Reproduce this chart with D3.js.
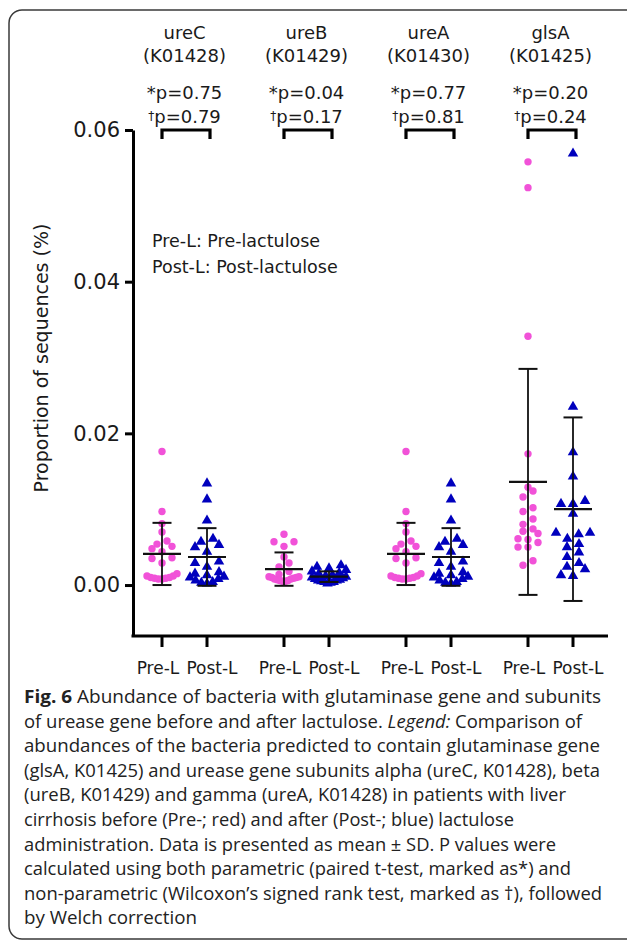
<!DOCTYPE html>
<html><head><meta charset="utf-8">
<script src="https://cdn.jsdelivr.net/npm/d3@7"></script>
<style>html,body{margin:0;padding:0;background:#fff;} svg{display:block}</style>
</head><body>
<script>
// ---------- data ----------
const genes = ["ureC", "ureB", "ureA", "glsA"];
const keggIds = ["(K01428)", "(K01429)", "(K01430)", "(K01425)"];
const conditions = ["Pre-L", "Post-L"];
const pParametric = ["0.75", "0.04", "0.77", "0.20"];
const pNonParametric = ["0.79", "0.17", "0.81", "0.24"];
const yTicks = [0, 0.02, 0.04, 0.06];

const ureCPre = [0.0176, 0.0097, 0.0081, 0.0070, 0.0058, 0.0054, 0.0051, 0.0048, 0.0044, 0.0036, 0.0035, 0.0029, 0.0015, 0.0012, 0.0010, 0.0009, 0.0008, 0.0008, 0.0009, 0.0010, 0.0012];
const ureCPost = [0.0134, 0.0113, 0.0085, 0.0061, 0.0057, 0.0053, 0.0050, 0.0044, 0.0031, 0.0029, 0.0024, 0.0017, 0.0015, 0.0013, 0.0011, 0.0010, 0.0008, 0.0006, 0.0004, 0.0003, 0.0002];
const ureBPre = [0.0067, 0.0057, 0.0057, 0.0051, 0.0037, 0.0029, 0.0024, 0.0018, 0.0014, 0.0011, 0.0010, 0.0009, 0.0008, 0.0007, 0.0006, 0.0005, 0.0005, 0.0006, 0.0008, 0.0010, 0.0011];
const ureBPost = [0.0026, 0.0024, 0.0022, 0.0020, 0.0018, 0.0016, 0.0015, 0.0013, 0.0012, 0.0011, 0.0010, 0.0009, 0.0008, 0.0007, 0.0006, 0.0006, 0.0005, 0.0004, 0.0004, 0.0003, 0.0002];
const ureAPre = [0.0176, 0.0097, 0.0081, 0.0070, 0.0058, 0.0054, 0.0051, 0.0048, 0.0044, 0.0036, 0.0035, 0.0029, 0.0015, 0.0012, 0.0010, 0.0009, 0.0008, 0.0008, 0.0009, 0.0010, 0.0012];
const ureAPost = [0.0134, 0.0113, 0.0085, 0.0061, 0.0057, 0.0053, 0.0050, 0.0044, 0.0031, 0.0029, 0.0024, 0.0017, 0.0015, 0.0013, 0.0011, 0.0010, 0.0008, 0.0006, 0.0004, 0.0003, 0.0002];
const glsAPre = [0.0558, 0.0524, 0.0328, 0.0173, 0.0129, 0.0124, 0.0116, 0.0102, 0.0097, 0.0087, 0.0080, 0.0074, 0.0071, 0.0068, 0.0061, 0.0060, 0.0056, 0.0050, 0.0050, 0.0032, 0.0026];
const glsAPost = [0.0569, 0.0235, 0.0175, 0.0143, 0.0111, 0.0107, 0.0107, 0.0094, 0.0069, 0.0069, 0.0067, 0.0061, 0.0054, 0.0050, 0.0043, 0.0037, 0.0029, 0.0024, 0.0021, 0.0013, 0.0012];

// mean and SD (as drawn in the figure) per gene
const meanPre = [0.0041, 0.0021, 0.0041, 0.0136];
const meanPost = [0.0037, 0.0011, 0.0037, 0.0100];
const sdPre = [0.0041, 0.0022, 0.0041, 0.0149];
const sdPost = [0.0038, 0.0007, 0.0038, 0.0121];

const legendLines = ["Pre-L: Pre-lactulose", "Post-L: Post-lactulose"];
const yLabel = "Proportion of sequences (%)";

// ---------- build ----------
const series = [
  [ureCPre, ureCPost], [ureBPre, ureBPost], [ureAPre, ureAPost], [glsAPre, glsAPost]
];
const W = 627, H = 942;
const colPre = "#f152d8", colPost = "#0000bd";
const font = "DejaVu Sans, Verdana, sans-serif";

const svg = d3.select("body").append("svg").attr("width", W).attr("height", H);

// frame
svg.append("rect").attr("x", 9).attr("y", 10).attr("width", 700).attr("height", 929)
  .attr("rx", 13).attr("fill", "none").attr("stroke", "#3a3a3a").attr("stroke-width", 1.5);

const xGroup = d3.scaleBand().domain(genes).range([123.5, 611.5]);
const xCond = d3.scalePoint().domain(conditions).range([-22.5, 22.5]);
const xPos = (g, c) => xGroup(g) + xGroup.bandwidth() / 2 + xCond(c);
const y = d3.scaleLinear().domain([-0.00672, 0.06]).range([636, 130]);
const axisX0 = 133, axisX1 = 608;

// y axis
const yAxis = svg.append("g").attr("transform", `translate(${axisX0},0)`)
  .call(d3.axisLeft(y).tickValues(yTicks).tickFormat(d3.format(".2f")).tickSize(8).tickSizeOuter(0).tickPadding(5));
yAxis.select(".domain").attr("stroke", "#000").attr("stroke-width", 3);
yAxis.selectAll(".tick line").attr("stroke", "#000").attr("stroke-width", 3);
yAxis.selectAll(".tick text").attr("font-family", font).attr("font-size", 21).attr("fill", "#1a1a1a");

// x axis
const xa = svg.append("g");
xa.append("line").attr("x1", axisX0 - 1.5).attr("x2", axisX1).attr("y1", y.range()[0]).attr("y2", y.range()[0])
  .attr("stroke", "#000").attr("stroke-width", 3);
const cats = genes.flatMap(g => conditions.map(c => ({ g, c })));
xa.selectAll("line.tk").data(cats).join("line").attr("class", "tk")
  .attr("x1", d => xPos(d.g, d.c)).attr("x2", d => xPos(d.g, d.c))
  .attr("y1", 636).attr("y2", 647).attr("stroke", "#000").attr("stroke-width", 3);
xa.selectAll("text").data(cats).join("text")
  .attr("x", d => xPos(d.g, d.c) + (d.c === "Pre-L" ? -4 : 5)).attr("y", 674).attr("text-anchor", "middle")
  .attr("font-family", font).attr("font-size", 17).attr("fill", "#1a1a1a").text(d => d.c);

// y label
svg.append("text").attr("transform", "translate(48,358) rotate(-90)").attr("text-anchor", "middle")
  .attr("font-family", font).attr("font-size", 19).attr("fill", "#1a1a1a").text(yLabel);

// legend text
svg.selectAll("text.leg").data(legendLines).join("text").attr("class", "leg")
  .attr("x", 152).attr("y", (d, i) => 247 + i * 26).attr("font-family", font).attr("font-size", 17.5)
  .attr("fill", "#1a1a1a").text(d => d);

// headers
genes.forEach((g, i) => {
  const cx = xGroup(g) + xGroup.bandwidth() / 2;
  const t = svg.append("g").attr("font-family", font).attr("fill", "#1a1a1a").attr("text-anchor", "middle");
  t.append("text").attr("x", cx).attr("y", 39).attr("font-size", 18).text(g);
  t.append("text").attr("x", cx).attr("y", 62).attr("font-size", 18).text(keggIds[i]);
  t.append("text").attr("x", cx).attr("y", 99).attr("font-size", 18).text("*p=" + pParametric[i]);
  const t2 = t.append("text").attr("x", cx).attr("y", 123).attr("font-size", 18);
  t2.append("tspan").attr("font-size", 12).attr("dy", -3).text("†");
  t2.append("tspan").attr("dy", 3).text("p=" + pNonParametric[i]);
  // bracket
  const x1 = xPos(g, "Pre-L"), x2 = xPos(g, "Post-L") + 3;
  svg.append("path").attr("d", `M${x1},${139}V${130}H${x2}V${139}`)
    .attr("fill", "none").attr("stroke", "#000").attr("stroke-width", 3.2);
});

// binned scatter offsets (column scatter layout)
function columnScatter(values, binH, maxSpacing, maxWidth) {
  const order = values.map((v, i) => i).sort((a, b) => values[a] - values[b]);
  const off = new Array(values.length);
  const bins = [];
  let cur = null;
  order.forEach(i => {
    const py = y(values[i]);
    if (!cur || cur.y0 - py > binH) { cur = { y0: py, idx: [] }; bins.push(cur); }
    cur.idx.push(i);
  });
  bins.forEach(b => {
    const n = b.idx.length;
    const s = n > 1 ? Math.min(maxSpacing, maxWidth / (n - 1)) : 0;
    const slots = [];
    for (let j = 0; j < n; j++) slots.push((j - (n - 1) / 2) * s);
    slots.sort((a, b2) => Math.abs(a) - Math.abs(b2) || a - b2);
    b.idx.forEach((i, j) => { off[i] = slots[j]; });
  });
  return off;
}

const tri = d3.symbol().type(d3.symbolTriangle).size(48);
genes.forEach((g, gi) => {
  conditions.forEach((c, ci) => {
    const vals = series[gi][ci];
    const cx = xPos(g, c);
    const off = ci === 0 ? columnScatter(vals, 6.5, 10, 30) : columnScatter(vals, 7.5, 12, 34);
    const pts = vals.map((v, i) => ({ v, dx: off[i] }));
    if (ci === 0) {
      svg.append("g").selectAll("circle").data(pts).join("circle")
        .attr("cx", d => cx + d.dx).attr("cy", d => y(d.v)).attr("r", 3.7).attr("fill", colPre);
    } else {
      svg.append("g").selectAll("path").data(pts).join("path")
        .attr("transform", d => `translate(${cx + d.dx},${y(d.v)})`).attr("d", tri).attr("fill", colPost);
    }
  });
});

// error bars (mean ± SD)
genes.forEach((g, gi) => {
  conditions.forEach((c, ci) => {
    const m = ci === 0 ? meanPre[gi] : meanPost[gi];
    const s = ci === 0 ? sdPre[gi] : sdPost[gi];
    const cx = xPos(g, c);
    const eb = svg.append("g").attr("stroke", "#111");
    eb.append("line").attr("x1", cx).attr("x2", cx).attr("y1", y(m - s)).attr("y2", y(m + s)).attr("stroke-width", 1.8);
    eb.append("line").attr("x1", cx - 9.5).attr("x2", cx + 9.5).attr("y1", y(m + s)).attr("y2", y(m + s)).attr("stroke-width", 2);
    eb.append("line").attr("x1", cx - 9.5).attr("x2", cx + 9.5).attr("y1", y(m - s)).attr("y2", y(m - s)).attr("stroke-width", 2);
    eb.append("line").attr("x1", cx - 19).attr("x2", cx + 19).attr("y1", y(m)).attr("y2", y(m)).attr("stroke-width", 2.2);
  });
});

// caption
const capFont = "'Open Sans', Lato, sans-serif";
const captionLines = [
  [["b", "Fig. 6"], ["n", " Abundance of bacteria with glutaminase gene and subunits"]],
  [["n", "of urease gene before and after lactulose. "], ["i", "Legend:"], ["n", " Comparison of"]],
  [["n", "abundances of the bacteria predicted to contain glutaminase gene"]],
  [["n", "(glsA, K01425) and urease gene subunits alpha (ureC, K01428), beta"]],
  [["n", "(ureB, K01429) and gamma (ureA, K01428) in patients with liver"]],
  [["n", "cirrhosis before (Pre-; red) and after (Post-; blue) lactulose"]],
  [["n", "administration. Data is presented as mean ± SD. P values were"]],
  [["n", "calculated using both parametric (paired t-test, marked as*) and"]],
  [["n", "non-parametric (Wilcoxon’s signed rank test, marked as †), followed"]],
  [["n", "by Welch correction"]]
];
const captionEnds = [601, 582, 600, 600, 566, 514, 556, 571, 602, 197];
const capX = 24;
const cap = svg.append("g").attr("font-family", capFont).attr("font-size", 18).attr("fill", "#222");
captionLines.forEach((parts, li) => {
  const t = cap.append("text").attr("x", capX).attr("y", 703 + li * 24.6)
    .attr("textLength", captionEnds[li] - capX).attr("lengthAdjust", "spacingAndGlyphs");
  parts.forEach(([k, s]) => {
    const ts = t.append("tspan").text(s);
    if (k === "b") ts.attr("font-weight", "bold");
    if (k === "i") ts.attr("font-style", "italic");
  });
});
</script>
</body></html>
